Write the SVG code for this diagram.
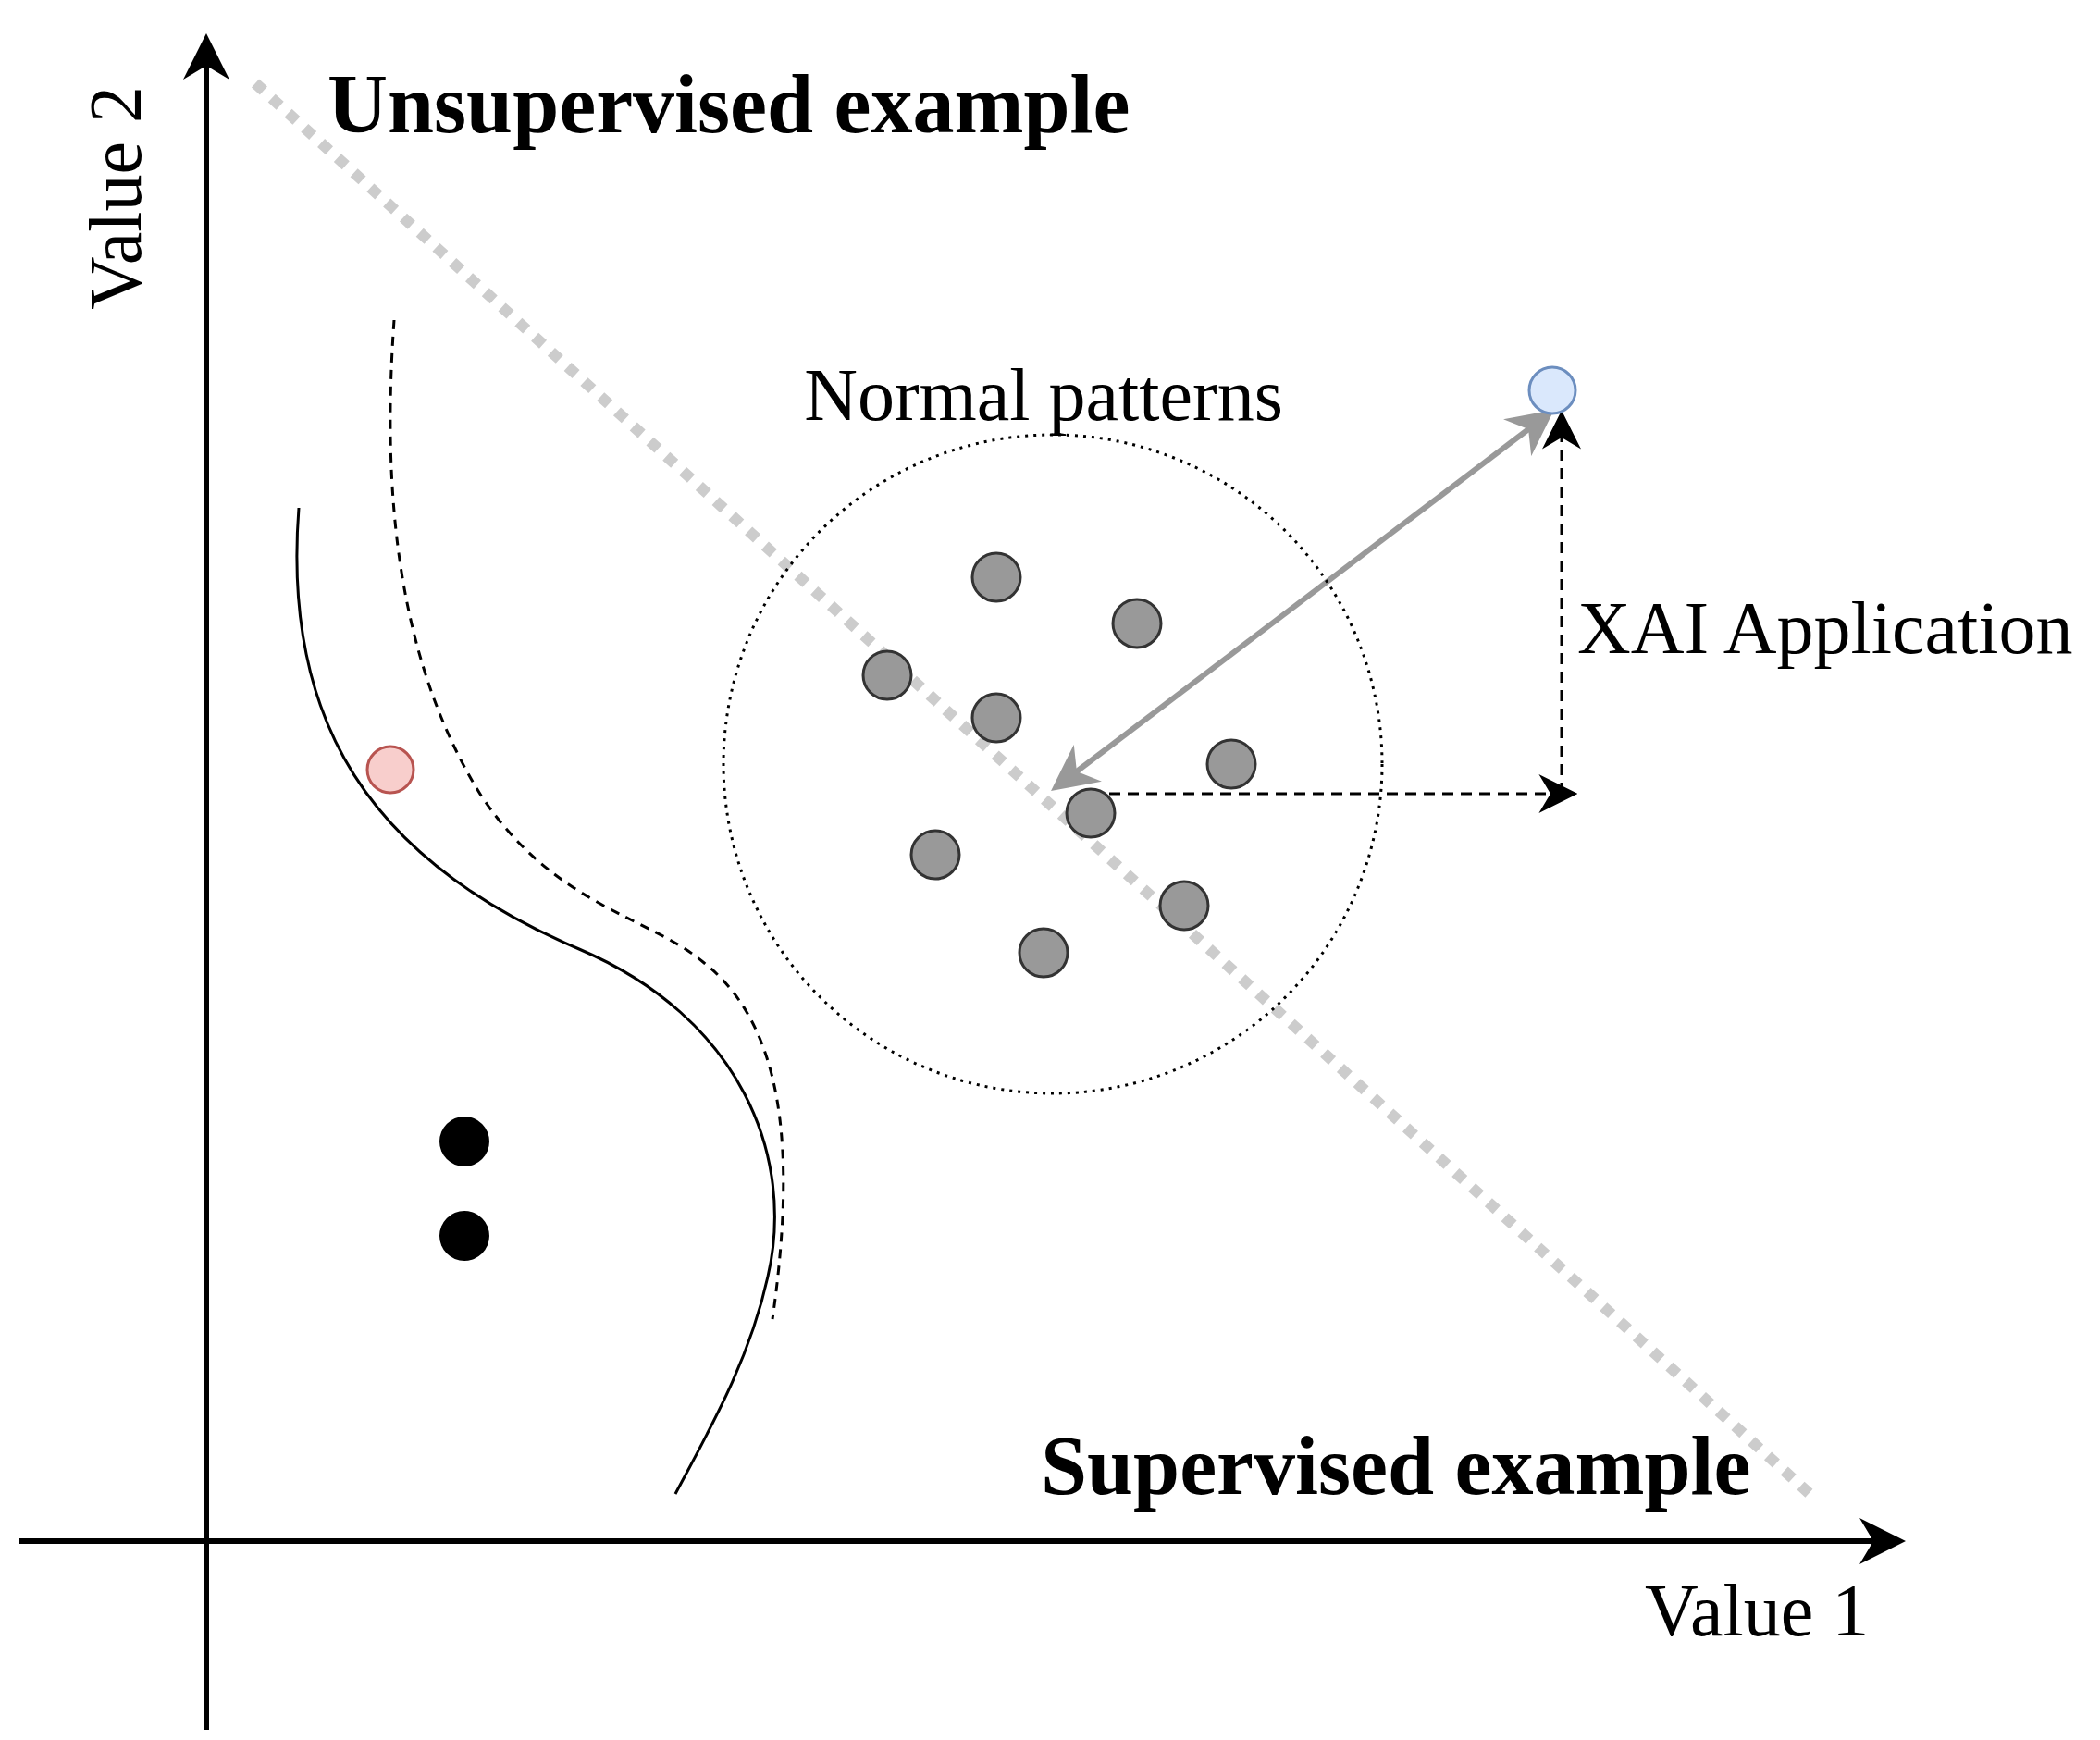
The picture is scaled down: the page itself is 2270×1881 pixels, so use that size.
<svg xmlns="http://www.w3.org/2000/svg" width="2270" height="1881" viewBox="0 0 2270 1881">
<style>
text{font-family:"Liberation Serif","Times New Roman",serif;fill:#000}
.b{font-weight:bold;font-size:90px}
.t{font-size:80px}
.g{fill:#999;stroke:#333;stroke-width:3}
</style>
<defs>
<marker id="ad" viewBox="0 0 10 10" refX="8" refY="5" markerWidth="50" markerHeight="50" orient="auto-start-reverse" markerUnits="userSpaceOnUse"><path d="M0,0 L10,5 L0,10 L3,5Z" fill="#999"/></marker>
<marker id="ab" viewBox="0 0 10 10" refX="8" refY="5" markerWidth="50" markerHeight="50" orient="auto" markerUnits="userSpaceOnUse"><path d="M0,0 L10,5 L0,10 L3,5Z" fill="#000"/></marker>
<marker id="as" viewBox="0 0 10 10" refX="8" refY="5" markerWidth="42" markerHeight="42" orient="auto" markerUnits="userSpaceOnUse"><path d="M0,0 L10,5 L0,10 L3,5Z" fill="#000"/></marker>
</defs>
<rect width="2270" height="1881" fill="#fff"/>
<g id="connectors">
<line x1="276" y1="90" x2="1964" y2="1622" stroke="#ccc" stroke-width="12" stroke-dasharray="12 12"/>
<line x1="223" y1="1870" x2="223" y2="46" stroke="#000" stroke-width="6" marker-end="url(#ab)"/>
<line x1="20" y1="1666" x2="2050" y2="1666" stroke="#000" stroke-width="6" marker-end="url(#ab)"/>
<line x1="1179" y1="858" x2="1697" y2="858" stroke="#000" stroke-width="3" stroke-dasharray="12 8" marker-end="url(#as)"/>
<line x1="1688" y1="858" x2="1688" y2="452" stroke="#000" stroke-width="3" stroke-dasharray="12 8" marker-end="url(#as)"/>
<line x1="1144" y1="849" x2="1672" y2="449" stroke="#999" stroke-width="6" marker-start="url(#ad)" marker-end="url(#ad)"/>
<path d="M323,549 C305,780 400,930 626,1026 C800,1100 860,1250 830,1380 C810,1470 770,1540 730,1615" fill="none" stroke="#000" stroke-width="3"/>
<path d="M426,346 C415,500 420,700 520,860 C600,980 700,990 760,1040 C850,1110 860,1250 835,1426" fill="none" stroke="#000" stroke-width="3" stroke-dasharray="10 8"/>
</g>
<g id="cluster"><circle cx="1138" cy="826" r="356" fill="none" stroke="#000" stroke-width="3" stroke-dasharray="3 6"/></g>
<g id="points">
<circle class="g" cx="1077" cy="624" r="26"/><circle class="g" cx="1229" cy="674" r="26"/>
<circle class="g" cx="959" cy="730" r="26"/><circle class="g" cx="1077" cy="776" r="26"/>
<circle class="g" cx="1331" cy="826" r="26"/><circle class="g" cx="1179" cy="879" r="26"/>
<circle class="g" cx="1011" cy="924" r="26"/><circle class="g" cx="1280" cy="979" r="26"/>
<circle class="g" cx="1128" cy="1030" r="26"/>
</g>
<g id="blue"><circle cx="1678" cy="422" r="25" fill="#dae8fc" stroke="#6c8ebf" stroke-width="3"/></g>
<g id="red"><circle cx="422" cy="832" r="25" fill="#f8cecc" stroke="#b85450" stroke-width="3"/></g>
<g id="black"><circle cx="502" cy="1234" r="27"/><circle cx="502" cy="1336" r="27"/></g>
<g id="labels">
<text class="b" x="354" y="143">Unsupervised example</text>
<text class="b" x="1125" y="1615">Supervised example</text>
<text class="t" x="1128" y="454" text-anchor="middle">Normal patterns</text>
<text class="t" x="1705" y="706">XAI Application</text>
<text class="t" x="1778" y="1768">Value 1</text>
<text class="t" transform="translate(152,214) rotate(-90)" text-anchor="middle">Value 2</text>
</g>
</svg>
